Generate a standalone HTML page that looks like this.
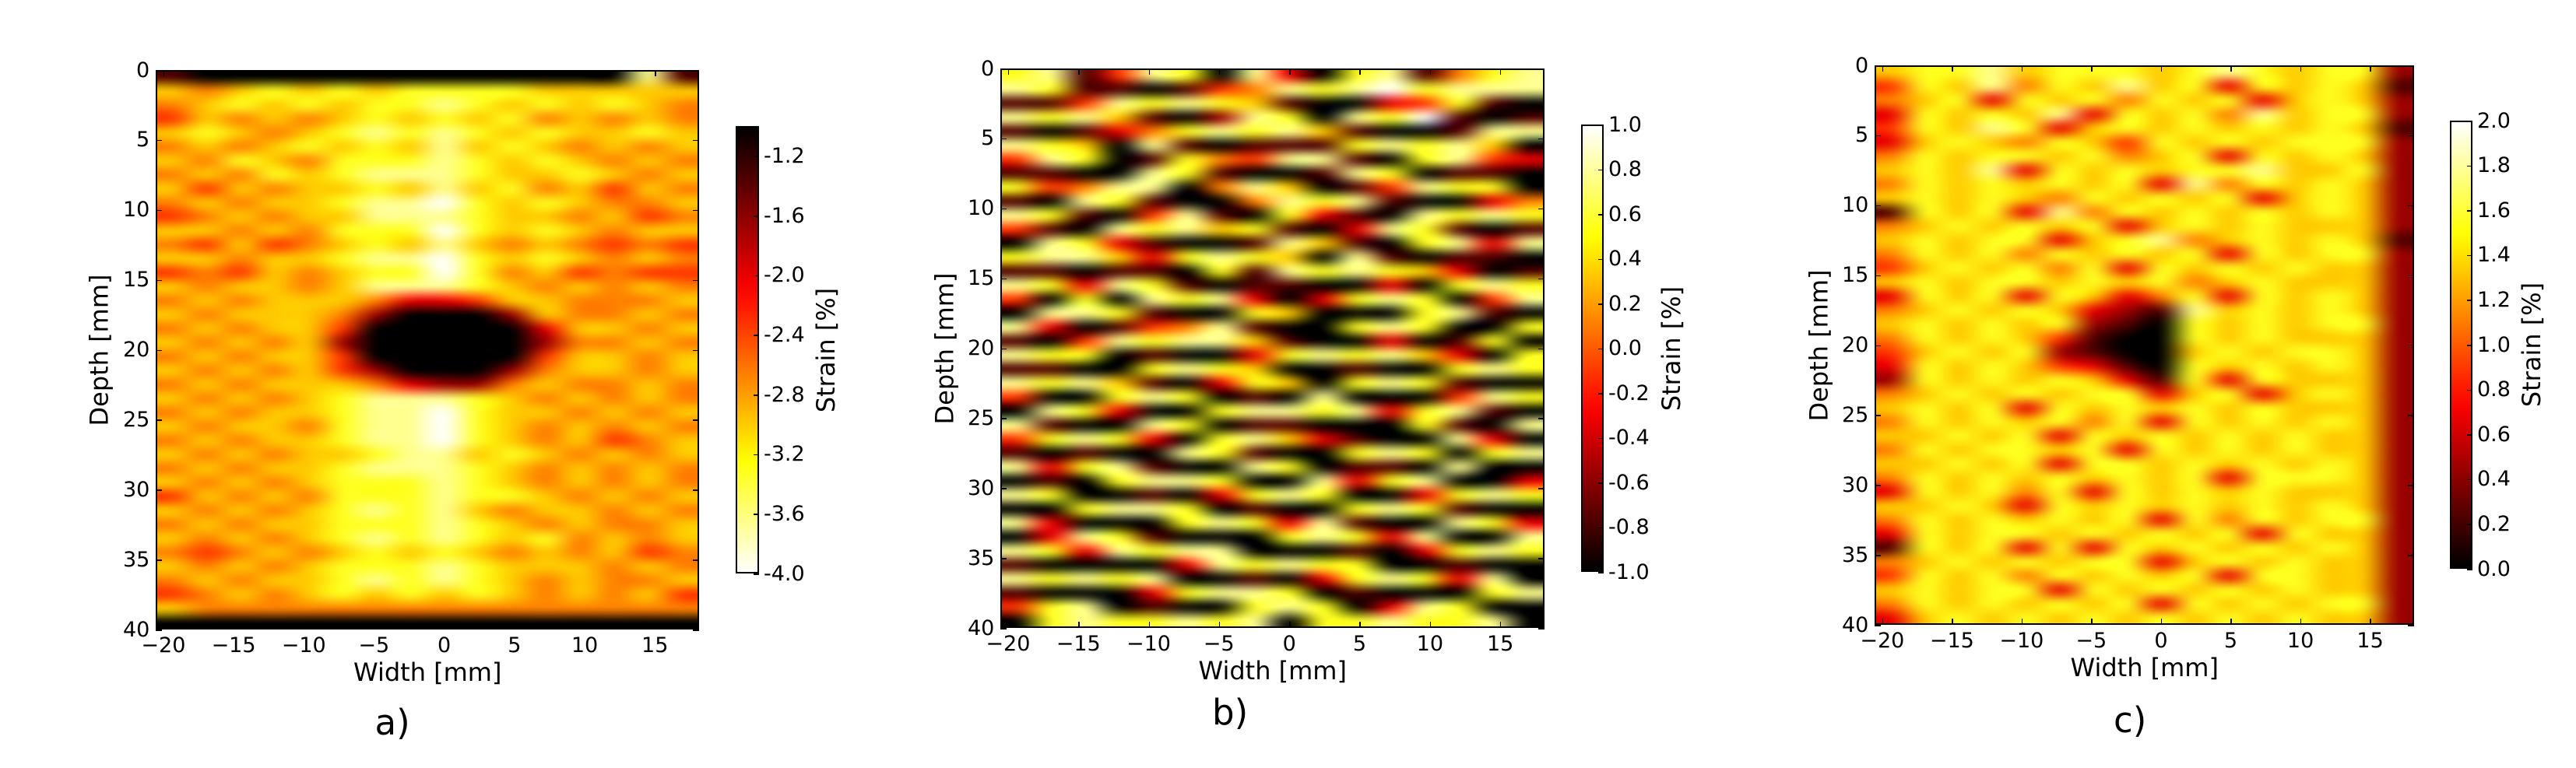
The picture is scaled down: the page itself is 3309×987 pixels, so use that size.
<!DOCTYPE html>
<html><head><meta charset="utf-8"><style>
html,body{margin:0;padding:0;background:#fff;}
#root{position:relative;width:3309px;height:987px;overflow:hidden;background:#fff;font-family:"DejaVu Sans","Liberation Sans",sans-serif;color:#000;}
.t{position:absolute;white-space:nowrap;line-height:1;}
canvas{position:absolute;}
.frame{position:absolute;border:2px solid #000;box-sizing:border-box;}
</style></head><body>
<div id="root"></div>
<script>
// Heatmap data: each string is a row (depth 0..40 mm), each digit a normalized "hot" level 0 (black) .. 9 (white)
const rowsA = [
"1000000000000081","6567676777766666","5676767787676765","4656567676756565","6765678787676676",
"5656767686765656","6576577787676565","5657678887667656","6465667686756465","5656678897676556",
"4565668887665645","6656577797676566","5464567686565454","6656678897676565","4546567797564544",
"6566568887656565","5656665334665556","6566652000265565","5656640000036656","6565620000025565",
"5656640000046656","6565642000256656","5656665322565565","6565678887656565","5656678897665656",
"6566578897656565","5656678897656456","6565667886765656","5656678887656565","6565677787656565",
"4656577787765656","6565678786566565","5656677787656556","6565678787675656","5456567676565645",
"6565677787666565","5656678787656556","4565676767656564","6555555555555555","0000000000000000"];
const rowsB = [
"7814870830781578","8711014587897888","1148787610034710","8786102870879101","1013578786100188",
"8760810111787860","4870175488107843","1100871001870110","7458805860148770","1087100587810035",
"8710481073108787","4108786710387101","0873100186107838","7886378760810110","1101107187876301",
"8738710110030787","4070878303787048","0887100760007810","8301458100787007","1048788610030170",
"8770100378786307","1100787600100787","8786103760787100","4007870108000487","0873007887837810",
"8100870110007108","4787307863100830","1010087100787078","8378100870110800","0107887008378003",
"8700103787003787","0078870100787100","8300078738100873","0387100078738008","8738788000103787",
"1000038787700100","8787800103787380","1000378870100078","4780100787038700","0787787807787780"];
const rowsC = [
"6778677767876772","4768576867376761","5673767576736762","3767683767586772","4768736767676761",
"3676576476767772","5767767567376762","6768376767786672","5767676738576762","6767657676736762",
"1767385767676762","5676767367676662","6767736785676761","5767576767376772","4676757376767662",
"6767767675676662","3767376357376762","5676763218676762","6767672107676772","5767641007676662",
"4676721006767762","3767643107676762","2767676317376662","5676767736736762","6767376767676662",
"5767675737676762","6676737676767662","5767767376767662","6676737767676762","5767676767377762",
"3767573767676662","6676376767676762","5767676737576772","3767767676737662","1767373767676762",
"5676767736767662","4767576767377662","6767737676767662","5767676737676772","3676767676767662"];

const xTicks = [-20,-15,-10,-5,0,5,10,15];
const yTicks = [0,5,10,15,20,25,30,35,40];
const cbTicksA = [-1.2,-1.6,-2.0,-2.4,-2.8,-3.2,-3.6,-4.0];
const cbTicksB = [1.0,0.8,0.6,0.4,0.2,0.0,-0.2,-0.4,-0.6,-0.8,-1.0];
const cbTicksC = [2.0,1.8,1.6,1.4,1.2,1.0,0.8,0.6,0.4,0.2,0.0];
const panelLetters = ["a)","b)","c)"];

function hot(t){
  t=Math.max(0,Math.min(1,t));
  const r=Math.min(1,t/0.365), g=Math.max(0,Math.min(1,(t-0.365)/0.381)), b=Math.max(0,Math.min(1,(t-0.746)/0.254));
  return [Math.round(r*255),Math.round(g*255),Math.round(b*255)];
}
const root=document.getElementById('root');
function txt(s,x,y,size,anchor,name,rot){
  const d=document.createElement('div');
  d.className='t';d.textContent=s;d.style.fontSize=size+'px';
  
  
  root.appendChild(d);
  const w=d.offsetWidth,h=d.offsetHeight;
  let tx=-w/2, ty=-h/2;
  if(anchor==='r') tx=-w;
  if(anchor==='l') tx=0;
  d.style.left=(x+tx)+'px';d.style.top=(y+ty)+'px';
  if(rot) d.style.transform='rotate(-90deg)';
  return d;
}
function line(x1,y1,x2,y2,name){
  const d=document.createElement('div');
  d.style.position='absolute';d.style.background='#000';
  d.style.left=Math.min(x1,x2)+'px';d.style.top=Math.min(y1,y2)+'px';
  d.style.width=Math.max(1.5,Math.abs(x2-x1))+'px';d.style.height=Math.max(1.5,Math.abs(y2-y1))+'px';
  
  
  root.appendChild(d);
}
const panels=[
 {rows:rowsA,ax:[200,90,898,809],cb:[945,162,975,737],cbT:cbTicksA,cbMin:-4,cbMax:-1,rev:true,depthX:127,strainX:1061,letter:[504,928],xmin:-20.55,xmax:18.16},
 {rows:rowsB,ax:[1285,88,1984,807],cb:[2031,160,2060,735],cbT:cbTicksB,cbMin:-1,cbMax:1,rev:false,depthX:1213,strainX:2147,letter:[1580,915],xmin:-20.55,xmax:18.16},
 {rows:rowsC,ax:[2408,84,3101,803],cb:[3147,155,3176,731],cbT:cbTicksC,cbMin:0,cbMax:2,rev:false,depthX:2336,strainX:3252,letter:[2736,925],xmin:-20.55,xmax:18.16}
];
panels.forEach((p,pi)=>{
  const [L,T,R,B]=p.ax, W=R-L, H=B-T;
  const xs=v=>L+(v-p.xmin)/(p.xmax-p.xmin)*W;
  const ys=v=>T+v/40*H;
  const nr=p.rows.length, nc=p.rows[0].length;
  const small=document.createElement('canvas');small.width=nc;small.height=nr;
  const sc=small.getContext('2d');const img=sc.createImageData(nc,nr);
  for(let r=0;r<nr;r++)for(let c=0;c<nc;c++){
    const t=parseInt(p.rows[r][c])/9;const col=hot(t);const k=(r*nc+c)*4;
    img.data[k]=col[0];img.data[k+1]=col[1];img.data[k+2]=col[2];img.data[k+3]=255;
  }
  sc.putImageData(img,0,0);
  const cv=document.createElement('canvas');cv.width=W;cv.height=H;
  cv.style.left=L+'px';cv.style.top=T+'px';
  
  
  const ctx=cv.getContext('2d');ctx.imageSmoothingEnabled=true;ctx.imageSmoothingQuality='high';
  ctx.drawImage(small,0,0,W,H);
  root.appendChild(cv);
  const fr=document.createElement('div');fr.className='frame';
  fr.style.left=L+'px';fr.style.top=T+'px';fr.style.width=W+'px';fr.style.height=H+'px';
  
  
  root.appendChild(fr);
  xTicks.forEach(v=>{
    const x=xs(v);
    line(x,B-8,x,B,'x-tick');line(x,T,x,T+8,'x-tick');
    txt(v<0?'\u2212'+Math.abs(v):String(v),x,B+20,27,'c','x-tick-label');
  });
  yTicks.forEach(v=>{
    const y=ys(v);
    line(L,y,L+8,y,'y-tick');line(R-8,y,R,y,'y-tick');
    txt(String(v),L-8,y,27,'r','y-tick-label');
  });
  txt('Width [mm]',(L+R)/2,B+55,32,'c','x-axis-title');
  txt('Depth [mm]',p.depthX,(T+B)/2,32,'c','y-axis-title',true);
  const [cL,cT,cR,cB]=p.cb;
  const g=document.createElement('div');
  g.style.position='absolute';g.style.left=cL+'px';g.style.top=cT+'px';g.style.width=(cR-cL)+'px';g.style.height=(cB-cT)+'px';
  g.style.border='2px solid #000';g.style.boxSizing='border-box';
  const stops=[];for(let i=0;i<=20;i++){const t=i/20;const c=hot(p.rev?t:1-t);stops.push(`rgb(${c})`+' '+(t*100)+'%');}
  g.style.background='linear-gradient(to bottom,'+stops.join(',')+')';
  
  
  root.appendChild(g);
  p.cbT.forEach(v=>{
    const y=cB-(v-p.cbMin)/(p.cbMax-p.cbMin)*(cB-cT);
    line(cR-7,y,cR,y,'colorbar-tick');
    txt(v.toFixed(1),cR+6,y,27,'l','colorbar-tick-label');
  });
  txt('Strain [%]',p.strainX,(cT+cB)/2,32,'c','colorbar-title',true);
  txt(panelLetters[pi],p.letter[0],p.letter[1],45,'c','panel-label');
});
</script>
</body></html>
